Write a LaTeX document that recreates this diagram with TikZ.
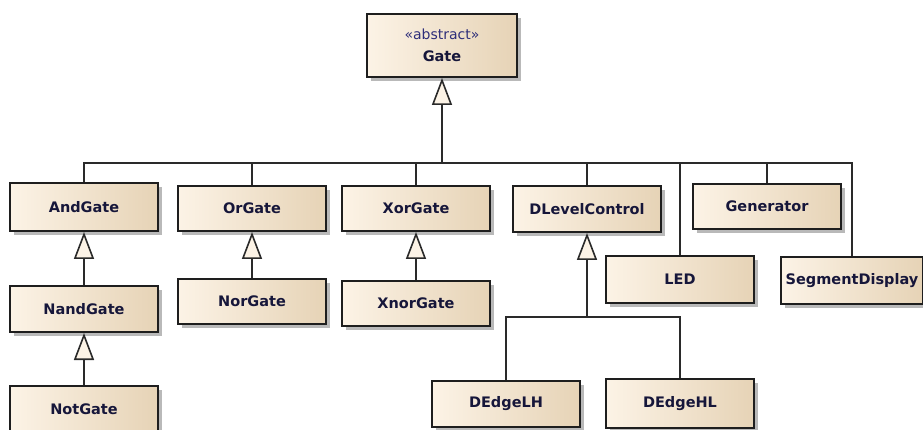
\documentclass[tikz,border=0pt]{standalone}
\usepackage{fontspec}
\setmainfont{DejaVu Sans}
\usepackage{xcolor}
\definecolor{BoxLight}{HTML}{FCF3E6}
\definecolor{BoxDark}{HTML}{E6D3B6}
\definecolor{EdgeDark}{HTML}{1E1E1E}
\definecolor{LineGray}{HTML}{2A2A2A}
\definecolor{TextNavy}{HTML}{16163A}
\definecolor{StereoBlue}{HTML}{2E2E7A}
\definecolor{TriFill}{HTML}{FCF3E6}
\usepackage{tikz}
\usetikzlibrary{arrows.meta,positioning,shadows}
\tikzset{
  umlclass/.style={draw=EdgeDark, line width=2pt, left color=BoxLight, right color=BoxDark,
                   minimum width=148pt, minimum height=46pt, inner sep=0pt, align=center,
                   text=TextNavy, font=\fontsize{14.5}{20}\selectfont\bfseries,
                   drop shadow={shadow xshift=4pt, shadow yshift=-4pt, fill=black!55, opacity=.5}},
  treeline/.style={draw=LineGray, line width=1.6pt},
  genarr/.style={treeline, -{Triangle[length=27pt, width=20pt, fill=TriFill]}}
}

\begin{document}
\begin{tikzpicture}[x=1pt, y=-1pt]
\useasboundingbox (0,0) rectangle (923,430);
% abstract base class
\node[umlclass, minimum width=150pt, minimum height=63pt] (Gate) at (442,45.5)
  {{\fontsize{14}{16}\selectfont\mdseries\color{StereoBlue}«abstract»}\\[2pt]Gate};
% subclasses, first row
\node[umlclass, minimum height=48pt] (AndGate) at (84,207) {AndGate};
\node[umlclass, minimum height=45pt] (OrGate) at (252,208.5) {OrGate};
\node[umlclass, minimum height=45pt] (XorGate) at (416,208.5) {XorGate};
\node[umlclass] (DLevelControl) at (587,209) {DLevelControl};
\node[umlclass, minimum height=45pt] (Generator) at (767,206.5) {Generator};
\node[umlclass, minimum height=47pt] (LED) at (680,279.5) {LED};
\node[umlclass, minimum width=142pt, minimum height=47pt] (SegmentDisplay) at (852,280.5) {SegmentDisplay};
% second and third rows
\node[umlclass] (NandGate) at (84,309) {NandGate};
\node[umlclass, minimum height=45pt] (NorGate) at (252,301.5) {NorGate};
\node[umlclass, minimum height=45pt] (XnorGate) at (416,303.5) {XnorGate};
\node[umlclass] (NotGate) at (84,409) {NotGate};
\node[umlclass] (DEdgeLH) at (506,404) {DEdgeLH};
\node[umlclass, minimum height=49pt] (DEdgeHL) at (680,403.5) {DEdgeHL};

% generalisation tree to Gate
\coordinate (gateBus) at (442,163);
\foreach \child in {AndGate,OrGate,XorGate,DLevelControl,LED,Generator,SegmentDisplay}
  \draw[treeline] (\child.north) |- (gateBus);
\draw[genarr] (gateBus) -- (Gate.south);

% single inheritance chains
\draw[genarr] (NandGate.north) -- (AndGate.south);
\draw[genarr] (NotGate.north) -- (NandGate.south);
\draw[genarr] (NorGate.north) -- (OrGate.south);
\draw[genarr] (XnorGate.north) -- (XorGate.south);

% edge controls
\coordinate (levelBus) at (587,317);
\draw[treeline] (DEdgeLH.north) |- (levelBus);
\draw[treeline] (DEdgeHL.north) |- (levelBus);
\draw[genarr] (levelBus) -- (DLevelControl.south);
\end{tikzpicture}
\end{document}
